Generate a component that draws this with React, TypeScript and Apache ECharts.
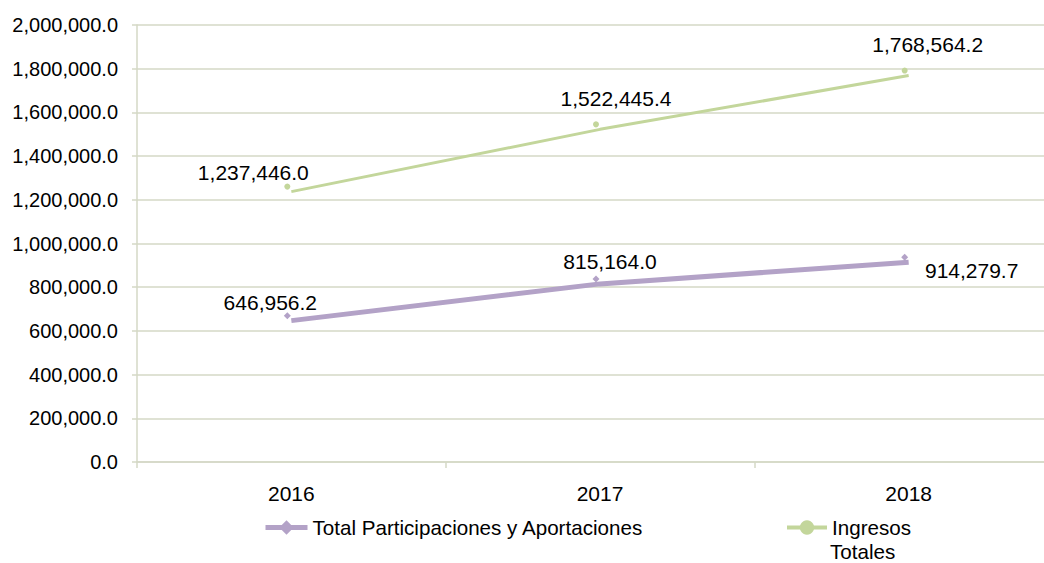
import React, { useEffect, useRef } from "react";
import * as echarts from "echarts";

const categories = ["2016", "2017", "2018"];
const seriesNames = ["Total Participaciones y Aportaciones", "Ingresos Totales"];
const participaciones = [646956.2, 815164.0, 914279.7];
const ingresos = [1237446.0, 1522445.4, 1768564.2];
const yTicks = { min: 0, max: 2000000, interval: 200000 };

// label centre relative to the data point
const partLabelOffsets = [[-21, -18], [10, -22], [63, 8]];
const ingLabelOffsets = [[-38, -19], [16, -31], [19, -31]];
const symOffset = [-4, -5];

const fmt = (v: number) =>
  v.toLocaleString("en-US", { minimumFractionDigits: 1, maximumFractionDigits: 1 });

const FONT = "'Liberation Sans', Arial, sans-serif";
const FS = 21;
const LFS = 20.6;
const gridColor = "#d5d8c6";

export default function App() {
  const ref = useRef<HTMLDivElement>(null);
  useEffect(() => {
    const chart = echarts.init(ref.current!, null, { renderer: "svg" });
    const mk = (vals: number[], offs: number[][]) =>
      vals.map((v, i) => ({
        value: v,
        label: { offset: [offs[i][0] - symOffset[0], offs[i][1] - symOffset[1]] },
      }));
    const labelCommon = {
      show: true,
      position: "inside",
      fontFamily: FONT,
      fontSize: FS,
      color: "#000",
      formatter: (p: any) => fmt(p.value),
    };
    chart.setOption({
      animation: false,
      backgroundColor: "#ffffff",
      textStyle: { fontFamily: FONT },
      grid: { left: 137, width: 926, top: 25, height: 437, containLabel: false, outerBoundsMode: "none" },
      legend: [
        {
          data: [seriesNames[0]],
          left: 263,
          top: 517,
          padding: 0,
          itemWidth: 42,
          itemHeight: 18,
          lineStyle: { width: 5 },
          textStyle: { fontFamily: FONT, fontSize: LFS, color: "#000" },
        },
        {
          data: [seriesNames[1]],
          left: 785,
          top: 517,
          padding: 0,
          itemWidth: 40,
          itemHeight: 18,
          lineStyle: { width: 4 },
          formatter: () => "Ingresos",
          textStyle: { fontFamily: FONT, fontSize: LFS, color: "#000" },
        },
      ],
      graphic: [
        {
          type: "text",
          left: 830,
          top: 541,
          style: { text: "Totales", font: `${LFS}px ${FONT}`, fill: "#000" },
        },
      ],
      xAxis: {
        type: "category",
        data: categories,
        boundaryGap: true,
        axisLine: { lineStyle: { color: gridColor, width: 1.5 } },
        axisTick: { show: true, length: 6, lineStyle: { color: gridColor, width: 1.5 } },
        axisLabel: { fontFamily: FONT, fontSize: FS, color: "#000", margin: 21 },
      },
      yAxis: {
        type: "value",
        min: yTicks.min,
        max: yTicks.max,
        interval: yTicks.interval,
        axisLine: { show: true, lineStyle: { color: gridColor, width: 1.5 } },
        axisTick: { show: true, length: 5, lineStyle: { color: gridColor, width: 1.5 } },
        splitLine: { lineStyle: { color: gridColor, width: 1.5 } },
        axisLabel: {
          fontFamily: FONT,
          fontSize: 20,
          color: "#000",
          margin: 19,
          formatter: (v: number) => fmt(v),
        },
      },
      series: [
        {
          name: seriesNames[0],
          type: "line",
          data: mk(participaciones, partLabelOffsets),
          color: "#b3a2c7",
          lineStyle: { color: "#b3a2c7", width: 5 },
          symbol: "diamond",
          symbolSize: 7,
          symbolOffset: symOffset,
          itemStyle: { color: "#b3a2c7" },
          label: labelCommon,
          z: 3,
        },
        {
          name: seriesNames[1],
          type: "line",
          data: mk(ingresos, ingLabelOffsets),
          color: "#c3d69b",
          lineStyle: { color: "#c3d69b", width: 3 },
          symbol: "circle",
          symbolSize: 6,
          symbolOffset: symOffset,
          itemStyle: { color: "#c3d69b" },
          label: labelCommon,
          z: 3,
        },
      ],
    });
    return () => chart.dispose();
  }, []);
  return (
    <div
      ref={ref}
      style={{ width: 1044, height: 563, position: "fixed", left: 0, top: 0 }}
    />
  );
}
